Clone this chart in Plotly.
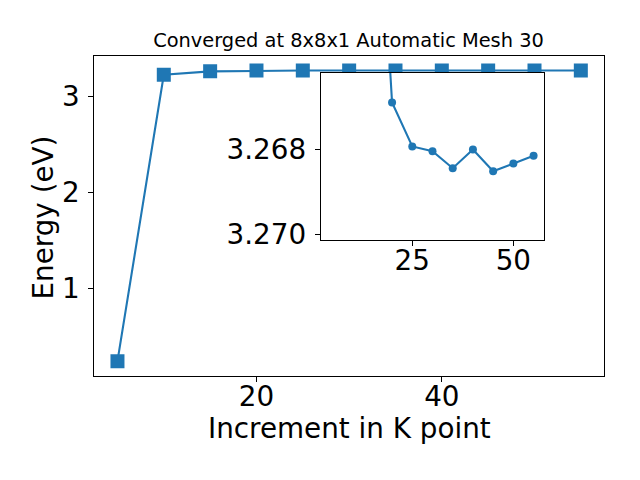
import plotly.graph_objects as go

kpoints = [5, 10, 15, 20, 25, 30, 35, 40, 45, 50, 55]
energy = [0.241, 3.223, 3.259, 3.26691, 3.26794, 3.26805, 3.26845, 3.26801, 3.26852, 3.26834, 3.26816]
title_text = "Converged at 8x8x1 Automatic Mesh 30"
xlabel = "Increment in K point"
ylabel = "Energy (eV)"
main_xticks = [20, 40]
main_yticks = [1, 2, 3]
inset_xticks = [25, 50]
inset_yticks = [3.268, 3.270]

W, H = 640, 480
color = "#1f77b4"
font = "DejaVu Sans"
fs = 27.8

def px(x):
    return x / W

def py(y):
    return 1 - y / H

fig = go.Figure()
fig.add_trace(go.Scatter(x=kpoints, y=energy, mode="lines+markers",
                         line=dict(color=color, width=2.1),
                         marker=dict(symbol="square", size=14, color=color),
                         xaxis="x", yaxis="y", showlegend=False))
fig.add_trace(go.Scatter(x=kpoints, y=energy, mode="lines+markers",
                         line=dict(color=color, width=2.1),
                         marker=dict(symbol="circle", size=8, color=color),
                         xaxis="x2", yaxis="y2", showlegend=False))

axis_common = dict(showline=True, mirror=True, linecolor="black", linewidth=1.1,
                   ticks="outside", ticklen=5, tickwidth=1.1, tickcolor="black",
                   showgrid=False, zeroline=False, automargin=False,
                   tickfont=dict(family=font, size=fs, color="black"))

fig.update_layout(
    width=W, height=H, autosize=False,
    margin=dict(l=0, r=0, t=0, b=0, pad=0, autoexpand=False),
    paper_bgcolor="white", plot_bgcolor="white",
    xaxis=dict(domain=[px(94.3), px(604)], range=[2.5, 57.5], tickvals=main_xticks,
               anchor="y", ticklabelstandoff=-9, **axis_common),
    yaxis=dict(domain=[py(375.7), py(56)], range=[0.09, 3.419], tickvals=main_yticks,
               anchor="x", ticklabelstandoff=3, **axis_common),
    xaxis2=dict(domain=[px(320.7), px(544.3)], range=[2.35, 57.65], tickvals=inset_xticks,
                anchor="y2", ticklabelstandoff=-9, **axis_common),
    yaxis2=dict(domain=[py(240), py(72.7)], range=[3.270134, 3.26621], tickvals=inset_yticks,
                tickformat=".3f", anchor="x2", ticklabelstandoff=3, **axis_common),
    title=dict(text=title_text, x=px(348.5), xanchor="center", y=py(40.5), yanchor="middle",
               xref="paper", yref="paper", automargin=False,
               font=dict(family=font, size=19.4, color="black")),
    annotations=[
        dict(text=xlabel, x=px(349.2), y=py(428.6), xref="paper", yref="paper",
             xanchor="center", yanchor="middle", showarrow=False,
             font=dict(family=font, size=fs, color="black")),
        dict(text=ylabel, x=px(43.5), y=py(218), xref="paper", yref="paper",
             xanchor="center", yanchor="middle", showarrow=False, textangle=-90,
             font=dict(family=font, size=fs, color="black")),
    ],
)

fig.write_html("out.html", config={"displayModeBar": False},
               post_script="document.body.style.margin='0';document.body.style.padding='0';")
